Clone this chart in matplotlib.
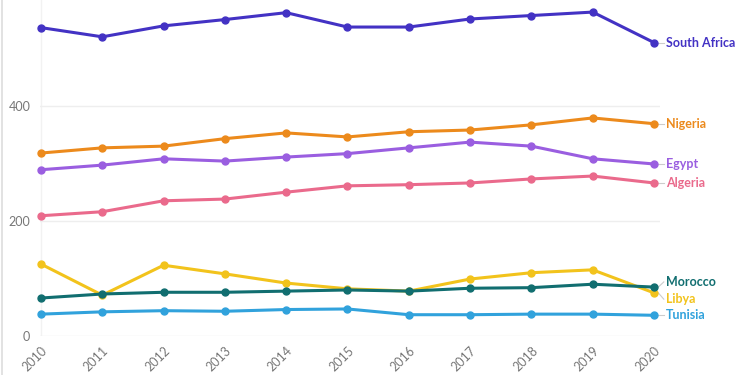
import matplotlib

matplotlib.use("Agg")
import matplotlib.pyplot as plt  # noqa: E402
from matplotlib.lines import Line2D  # noqa: E402

years = list(range(2010, 2021))

south_africa = [536, 520, 539, 550, 562, 537, 537, 551, 557, 563, 510]
nigeria = [318, 327, 330, 343, 353, 346, 355, 358, 367, 379, 369]
egypt = [289, 297, 308, 304, 311, 317, 327, 337, 330, 308, 299]
algeria = [209, 216, 235, 238, 250, 261, 263, 266, 273, 278, 266]
libya = [125, 71, 123, 108, 92, 82, 78, 99, 110, 115, 75]
morocco = [66, 73, 76, 76, 78, 80, 78, 83, 84, 90, 85]
tunisia = [38, 42, 44, 43, 46, 47, 37, 37, 38, 38, 36]

countries = ["South Africa", "Nigeria", "Egypt", "Algeria", "Libya", "Morocco", "Tunisia"]
series = [south_africa, nigeria, egypt, algeria, libya, morocco, tunisia]
colors = ["#4332c4", "#ec8a1c", "#9a5ee0", "#ea6a8c", "#f2c31c", "#116e70", "#31a2dc"]
# end labels nudged apart where the last points crowd each other (data units)
label_nudge = {"Morocco": 9, "Libya": -11}

plt.rcParams["font.family"] = ["Lato", "DejaVu Sans"]

fig = plt.figure(figsize=(7.5, 3.75), dpi=100)
ax = fig.add_axes([40 / 750, 39 / 375, 620 / 750, 336 / 375])

for name, vals, col in zip(countries, series, colors):
    ax.plot(years, vals, color=col, lw=2.2, marker="o", ms=5, zorder=3, clip_on=False)
    y_end = vals[-1]
    y_lab = y_end + label_nudge.get(name, 0)
    ax.plot([2020.07, 2020.16], [y_end, y_lab], color="#cccccc", lw=0.8, clip_on=False)
    ax.text(2020.19, y_lab, name, color=col, fontsize=9, fontweight="bold",
            va="center", ha="left")

ax.set_xlim(2009.984, 2020.098)
ax.set_ylim(0, 584)
ax.set_yticks([0, 200, 400])
ax.set_xticks(years)
ax.set_xticklabels([str(y) for y in years], rotation=45, ha="right", rotation_mode="anchor")
ax.tick_params(axis="both", length=0, colors="#777777", labelsize=9)
ax.tick_params(axis="x", pad=6)
ax.tick_params(axis="y", pad=7)
ax.grid(axis="y", color="#eeeeee", lw=1)
ax.axvline(2010, color="#f2f2f2", lw=1, zorder=0)
for s in ax.spines.values():
    s.set_visible(False)

# faint frame edge on the left of the image
fig.add_artist(Line2D([2 / 750, 2 / 750], [0, 1], color="#dddddd", lw=1.2,
                      transform=fig.transFigure))

fig.savefig("out.png", dpi=100)
